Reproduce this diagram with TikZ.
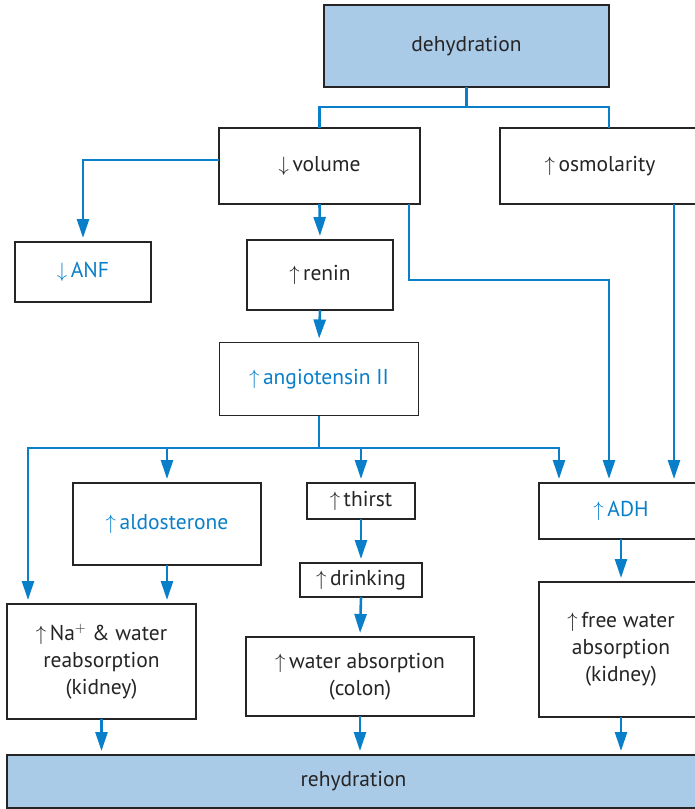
\documentclass[tikz,border=0pt]{standalone}
\usepackage{fontspec}
\setmainfont{PT Sans}
\usetikzlibrary{arrows.meta}
\definecolor{flowblue}{HTML}{0A7FC9}
\definecolor{boxfill}{HTML}{AACBE8}
\definecolor{boxline}{HTML}{262425}
\newcommand{\incr}{$\uparrow$\,}
\newcommand{\decr}{$\downarrow$\,}

\begin{document}
\begin{tikzpicture}[x=1pt, y=-1pt,
  box/.style={draw=boxline, line width=1.6pt, fill=white, inner sep=0pt, outer sep=0pt,
    align=center, text=boxline, font=\fontsize{21.5}{27}\selectfont},
  endbox/.style={box, fill=boxfill},
  hormone/.style={box, text=flowblue},
  link/.style={draw=flowblue, line width=2.6pt},
  arr/.style={link, -{Triangle[length=19pt, width=12pt]}, shorten >=4pt}]
  \clip (0,0) rectangle (695,809);

  % 方框
  \node[endbox, minimum width=285, minimum height=82] (dehyd) at (466.5,46) {dehydration};
  \node[box, minimum width=201, minimum height=76] (volume) at (319.5,166) {\decr volume};
  \node[box, minimum width=200, minimum height=76] (osmol) at (600,166) {\incr osmolarity};
  \node[hormone, minimum width=136, minimum height=60] (anf) at (83,272) {\decr ANF};
  \node[box, minimum width=146, minimum height=70] (renin) at (320,275) {\incr renin};
  \node[hormone, minimum width=199, minimum height=73] (angio) at (319,379) {\incr angiotensin II};
  \node[hormone, minimum width=188, minimum height=82] (aldo) at (167,524) {\incr aldosterone};
  \node[box, minimum width=108, minimum height=36] (thirst) at (361,501) {\incr thirst};
  \node[box, minimum width=122, minimum height=34] (drink) at (361,580) {\incr drinking};
  \node[hormone, minimum width=164, minimum height=56] (adh) at (621,511) {\incr ADH};
  \node[box, minimum width=189, minimum height=115] (na) at (101.5,661.5)
    {\incr Na$^{+}$ \& water\\reabsorption\\(kidney)};
  \node[box, minimum width=228, minimum height=79] (wabs) at (360,676.5)
    {\incr water absorption\\(colon)};
  \node[box, minimum width=164, minimum height=135] (fwabs) at (621,649.5)
    {\incr free water\\absorption\\(kidney)};
  \node[endbox, minimum width=693, minimum height=53] (rehyd) at (353.5,781.5) {rehydration};

  % 连线
  \coordinate (j1) at (466.5,107);
  \coordinate (turn) at (609,280);
  \coordinate (osx) at (674,0);
  \coordinate (lft) at (28,448);
  \coordinate (rgt) at (559,448);
  \coordinate (j2) at (angio.south |- lft);

  \draw[link] (dehyd.south) -- (j1);
  \draw[link] (volume.north) |- (j1) -| (dehyd.south east |- osmol.north);
  \draw[arr] ([yshift=6pt]volume.west) -| (anf.north);
  \draw[arr] (volume.south) -- (renin.north);
  \draw[arr] ([xshift=-11pt]volume.south east) |- (turn) -- (turn |- adh.north);
  \draw[arr] (osx |- osmol.south) -- (osx |- adh.north);
  \draw[arr] (renin.south) -- (angio.north);
  \draw[link] (angio.south) -- (j2);
  \draw[arr] (j2) -| (lft |- na.north);
  \draw[arr] (j2) -| (rgt |- adh.north);
  \draw[arr] (aldo.north |- j2) -- (aldo.north);
  \draw[arr] (thirst.north |- j2) -- (thirst.north);
  \draw[arr] (aldo.south) -- (aldo.south |- na.north);
  \draw[arr] (thirst.south) -- (drink.north);
  \draw[arr] (drink.south) -- (wabs.north);
  \draw[arr] (adh.south) -- (fwabs.north);
  \draw[arr] (na.south) -- (na.south |- rehyd.north);
  \draw[arr] (wabs.south) -- (wabs.south |- rehyd.north);
  \draw[arr] (fwabs.south) -- (fwabs.south |- rehyd.north);
\end{tikzpicture}
\end{document}
